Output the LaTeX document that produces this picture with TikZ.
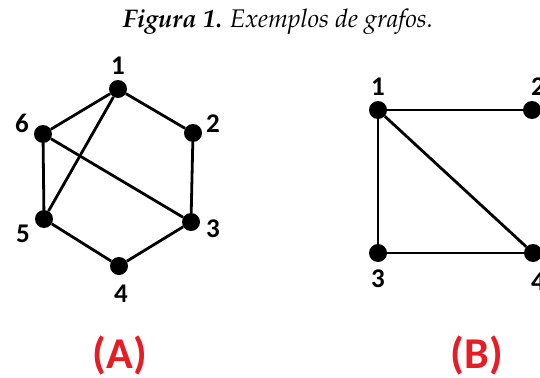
\documentclass[tikz,border=0pt]{standalone}
\usepackage[T1]{fontenc}
\usepackage{fontspec}
\newfontfamily\numfont{Carlito}
\usetikzlibrary{positioning}
\definecolor{rojo}{HTML}{E81C24}

\begin{document}
\begin{tikzpicture}[x=1pt, y=-1pt,
      vert/.style={circle, fill=black, inner sep=0pt, minimum size=18pt},
      num/.style={font=\numfont\bfseries\fontsize{27}{27}\selectfont, inner sep=0pt},
      tag/.style={font=\numfont\bfseries\fontsize{44}{44}\selectfont, text=rojo, inner sep=0pt},
      edge/.style={line width=2.8pt} ]
    \useasboundingbox (0,0) rectangle (540,377);

    \node[anchor=base, inner sep=0pt,
          font=\fontencoding{T1}\fontfamily{ppl}\fontsize{25.5}{30}\selectfont] (title) at (278,28)
      {\textbf{\textit{Figura 1.}} \textit{Exemplos de grafos.}};

    % grafo (A)
    \node[vert] (a1) at (118,89) {};
    \node[vert] (a2) at (193,133) {};
    \node[vert] (a3) at (191,222) {};
    \node[vert] (a4) at (119,266) {};
    \node[vert] (a5) at (44,219) {};
    \node[vert] (a6) at (43,134) {};

    \node[num] (la1) at (118,66) {1};
    \node[num] (la2) at (213,124) {2};
    \node[num] (la3) at (213,229) {3};
    \node[num] (la4) at (121,294) {4};
    \node[num] (la5) at (23,234) {5};
    \node[num] (la6) at (22,123) {6};

    \draw[edge] (a1) -- (a2) -- (a3) -- (a4) -- (a5) -- (a6) -- (a1);
    \draw[edge] (a1) -- (a5);
    \draw[edge] (a6) -- (a3);

    % grafo (B)
    \node[vert] (b1) at (378,110) {};
    \node[vert] (b2) at (532,110) {};
    \node[vert] (b3) at (378,253) {};
    \node[vert] (b4) at (533,253) {};

    \node[num] (lb1) at (378,87) {1};
    \node[num] (lb2) at (538,87) {2};
    \node[num] (lb3) at (378,279) {3};
    \node[num] (lb4) at (538,282) {4};

    \draw[edge] (b1) -- (b2);
    \draw[edge] (b1) -- (b3) -- (b4);
    \draw[edge] (b1) -- (b4);

    \node[tag] (tagA) at (120,355) {(A)};
    \node[tag] (tagB) at (477,355) {(B)};
  \end{tikzpicture}
\end{document}
